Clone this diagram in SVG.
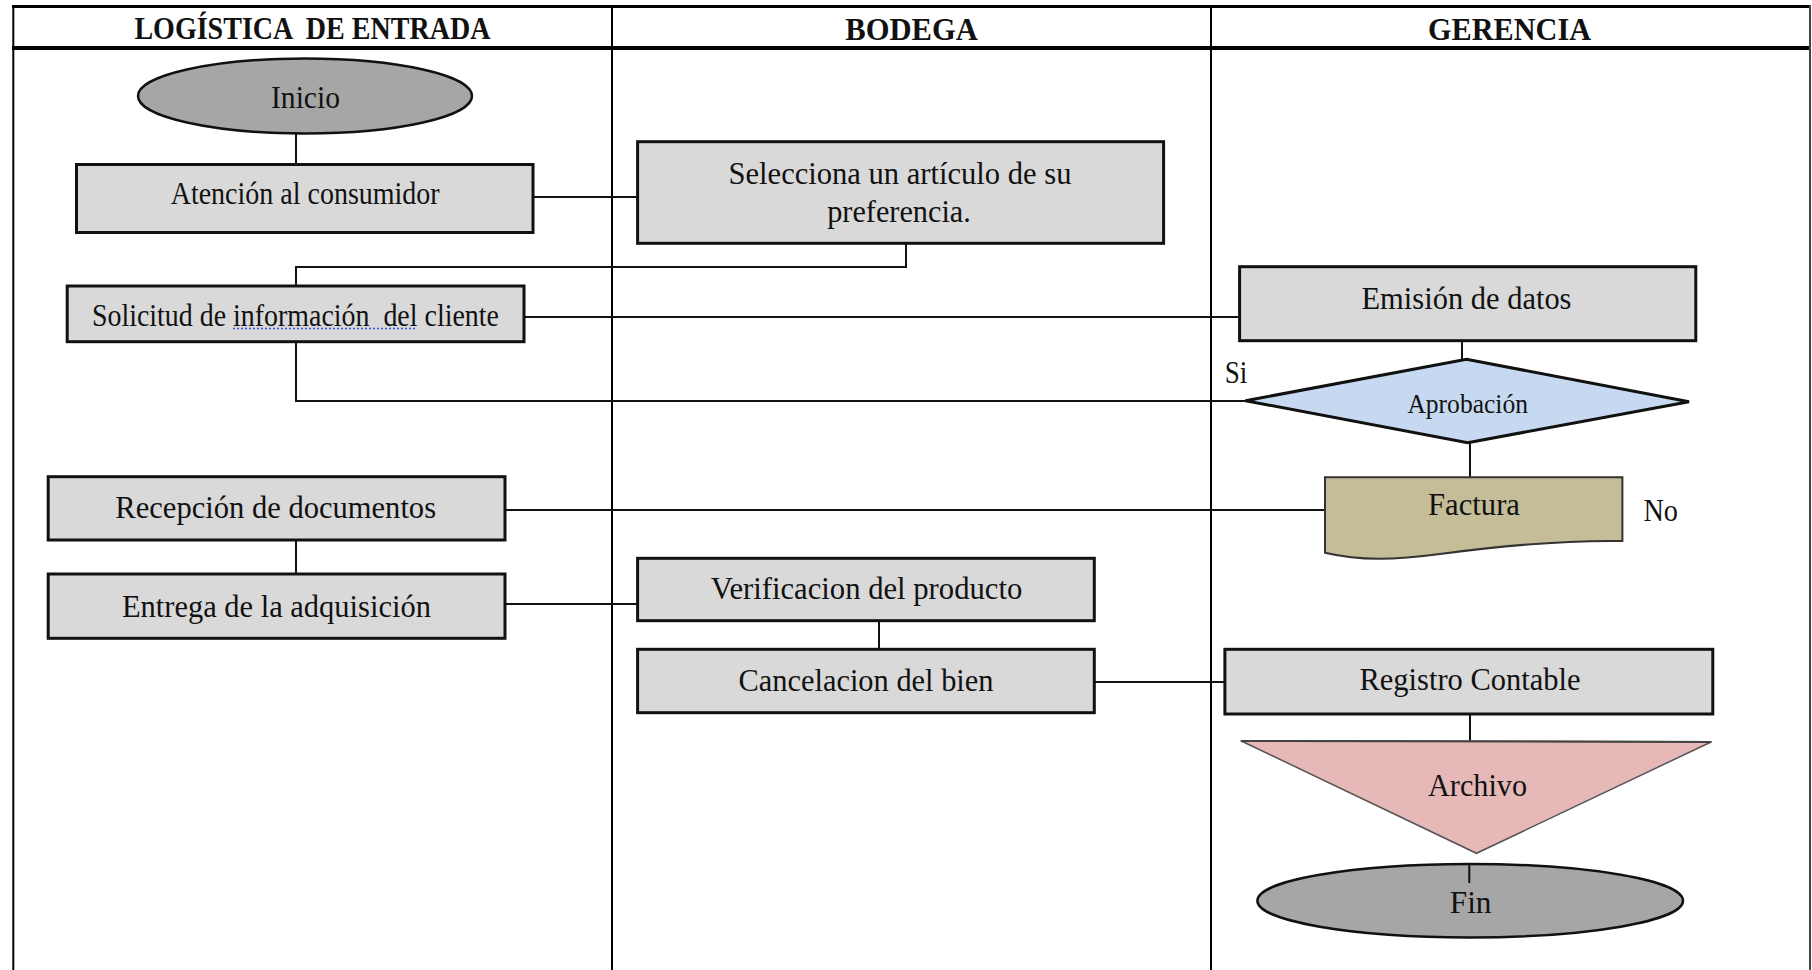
<svg xmlns="http://www.w3.org/2000/svg" width="1812" height="970" viewBox="0 0 1812 970">
<style>
  .frame{stroke:#000;fill:none}
  .box{fill:#d9d9d9;stroke:#111;stroke-width:3}
  .term{fill:#a6a6a6;stroke:#111;stroke-width:2.5}
  .dec{fill:#c6d9f1;stroke:#111;stroke-width:3}
  .doc{fill:#c4bd97;stroke:#333;stroke-width:2}
  .arch{fill:#e6b8b7;stroke:#555;stroke-width:1.5}
  .conn path,.conn line{stroke:#111;stroke-width:2;fill:none}
  text{font-family:"Liberation Serif","Times New Roman",serif;fill:#111;text-anchor:middle}
  .hd{font-size:31px;font-weight:bold}
  .lb{font-size:31px}
  .sm{font-size:27px}
</style>
<rect x="0" y="0" width="1812" height="970" fill="#fff"/>
<g id="frame" class="frame">
  <line x1="12" y1="6.5" x2="1811" y2="6.5" stroke-width="3"/>
  <line x1="12" y1="48" x2="1811" y2="48" stroke-width="4"/>
  <line x1="13.3" y1="5" x2="13.3" y2="970" stroke-width="2"/>
  <line x1="612" y1="5" x2="612" y2="970" stroke-width="2"/>
  <line x1="1211" y1="5" x2="1211" y2="970" stroke-width="2"/>
  <line x1="1810" y1="5" x2="1810" y2="970" stroke-width="2" stroke="#444"/>
</g>
<g id="headers">
  <text class="hd" x="312.4" y="39" textLength="356" lengthAdjust="spacingAndGlyphs" xml:space="preserve">LOGÍSTICA  DE ENTRADA</text>
  <text class="hd" x="911.5" y="40" textLength="132.5" lengthAdjust="spacingAndGlyphs">BODEGA</text>
  <text class="hd" x="1509.5" y="40" textLength="163" lengthAdjust="spacingAndGlyphs">GERENCIA</text>
</g>
<g id="connectors" class="conn">
  <line x1="296" y1="133" x2="296" y2="164"/>
  <line x1="533" y1="197" x2="638" y2="197"/>
  <path d="M906,243 V267 H296 V286"/>
  <line x1="524" y1="317" x2="1240" y2="317"/>
  <path d="M296,342 V401 H1246"/>
  <line x1="1462" y1="341" x2="1462" y2="359"/>
  <line x1="1470" y1="443" x2="1470" y2="477"/>
  <line x1="505" y1="510" x2="1325" y2="510"/>
  <line x1="296" y1="540" x2="296" y2="574"/>
  <line x1="505" y1="604" x2="638" y2="604"/>
  <line x1="879" y1="621" x2="879" y2="649"/>
  <line x1="1094" y1="682" x2="1225" y2="682"/>
  <line x1="1470" y1="714" x2="1470" y2="741"/>
</g>
<g id="n-inicio">
  <ellipse class="term" cx="305" cy="96" rx="167" ry="37.5"/>
  <text class="lb" x="305.5" y="108" textLength="69" lengthAdjust="spacingAndGlyphs">Inicio</text>
</g>
<g id="n-atencion">
  <rect class="box" x="76.5" y="164.5" width="456.5" height="68"/>
  <text class="lb" x="305.2" y="204" textLength="269" lengthAdjust="spacingAndGlyphs">Atención al consumidor</text>
</g>
<g id="n-selecciona">
  <rect class="box" x="637.6" y="141.7" width="526" height="101.6"/>
  <text class="lb" x="900" y="184" textLength="343" lengthAdjust="spacingAndGlyphs">Selecciona un artículo de su</text>
  <text class="lb" x="899" y="221.5" textLength="143.6" lengthAdjust="spacingAndGlyphs">preferencia.</text>
</g>
<g id="n-solicitud">
  <rect class="box" x="67.2" y="286" width="456.8" height="55.7"/>
  <text class="lb" x="295.4" y="326" textLength="407" lengthAdjust="spacingAndGlyphs" xml:space="preserve">Solicitud de información  del cliente</text>
  <line x1="233" y1="328.5" x2="417" y2="328.5" stroke="#3355dd" stroke-width="1.6" stroke-dasharray="2 2"/>
</g>
<g id="n-emision">
  <rect class="box" x="1239.6" y="266.7" width="456.2" height="74"/>
  <text class="lb" x="1466.5" y="309.3" textLength="210" lengthAdjust="spacingAndGlyphs">Emisión de datos</text>
</g>
<g id="n-aprobacion">
  <polygon class="dec" points="1245.5,400.7 1466.5,359.3 1689,401.7 1467.7,442.7"/>
  <text class="sm" x="1467.7" y="412.7" textLength="120.6" lengthAdjust="spacingAndGlyphs">Aprobación</text>
</g>
<g id="l-si">
  <text class="lb" x="1236" y="383.3" textLength="22.6" lengthAdjust="spacingAndGlyphs">Si</text>
</g>
<g id="n-factura">
  <path class="doc" d="M1325,477.3 H1622.4 V541 C1560,540 1500,546 1440,554 C1395,560 1360,561 1325,552.7 Z"/>
  <text class="lb" x="1474" y="515" textLength="92" lengthAdjust="spacingAndGlyphs">Factura</text>
</g>
<g id="l-no">
  <text class="lb" x="1660.7" y="520.7" textLength="34.6" lengthAdjust="spacingAndGlyphs">No</text>
</g>
<g id="n-recepcion">
  <rect class="box" x="48.2" y="476.7" width="456.8" height="63.3"/>
  <text class="lb" x="275.7" y="518.3" textLength="320.7" lengthAdjust="spacingAndGlyphs">Recepción de documentos</text>
</g>
<g id="n-entrega">
  <rect class="box" x="48.2" y="574" width="456.8" height="64.3"/>
  <text class="lb" x="276.4" y="616.7" textLength="309" lengthAdjust="spacingAndGlyphs">Entrega de la adquisición</text>
</g>
<g id="n-verificacion">
  <rect class="box" x="637.6" y="558.3" width="456.7" height="62.4"/>
  <text class="lb" x="866.5" y="599.3" textLength="311.6" lengthAdjust="spacingAndGlyphs">Verificacion del producto</text>
</g>
<g id="n-cancelacion">
  <rect class="box" x="637.6" y="649.3" width="456.7" height="63.4"/>
  <text class="lb" x="866" y="690.7" textLength="255" lengthAdjust="spacingAndGlyphs">Cancelacion del bien</text>
</g>
<g id="n-registro">
  <rect class="box" x="1224.9" y="649.3" width="487.9" height="64.7"/>
  <text class="lb" x="1470" y="690" textLength="221" lengthAdjust="spacingAndGlyphs">Registro Contable</text>
</g>
<g id="n-archivo">
  <polygon class="arch" points="1240.8,740.7 1711.6,741.7 1476.5,853.3"/>
  <line x1="1241" y1="741" x2="1711" y2="742" stroke="#444" stroke-width="2"/>
  <text class="lb" x="1477.5" y="796" textLength="99" lengthAdjust="spacingAndGlyphs">Archivo</text>
</g>
<g id="n-fin">
  <ellipse class="term" cx="1470.2" cy="900.7" rx="212.8" ry="36.7"/>
  <line x1="1469.3" y1="864" x2="1469.3" y2="883" stroke="#111" stroke-width="2"/>
  <text class="lb" x="1470.6" y="912.5" textLength="41.7" lengthAdjust="spacingAndGlyphs">Fin</text>
</g>
</svg>
